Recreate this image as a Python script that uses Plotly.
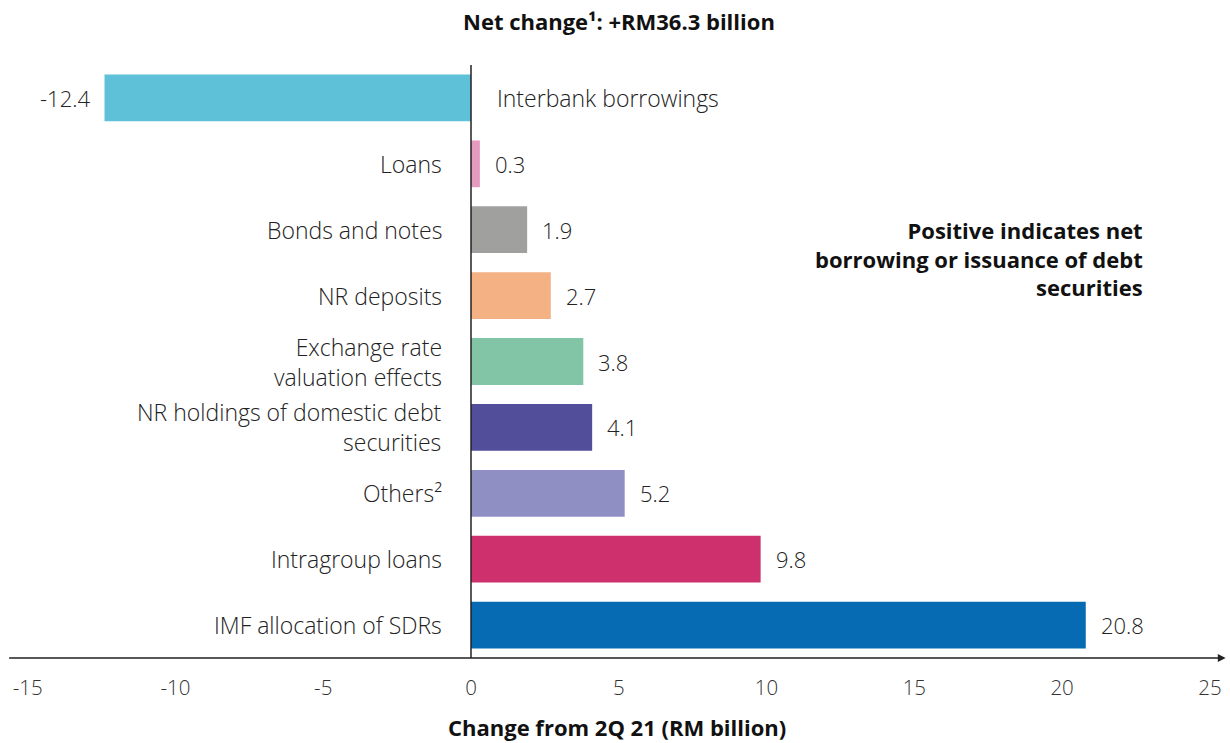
import plotly.graph_objects as go

# Categories listed bottom-to-top, with their changes (RM billion)
categories = [
    "IMF allocation of SDRs",
    "Intragroup loans",
    "Others²",
    "NR holdings of domestic debt<br>securities",
    "Exchange rate<br>valuation effects",
    "NR deposits",
    "Bonds and notes",
    "Loans",
    "Interbank borrowings",
]
values = [20.8, 9.8, 5.2, 4.1, 3.8, 2.7, 1.9, 0.3, -12.4]
colors = [
    "#066BB2", "#CE306E", "#8F8FC4", "#524E9A", "#82C5A6",
    "#F4B183", "#A0A09F", "#E59BC0", "#5FC1D7",
]
x_ticks = [-15, -10, -5, 0, 5, 10, 15, 20, 25]

FONT = "Open Sans"
TEXT = "#222222"
LABEL = dict(family=FONT, size=23, color=TEXT, weight=300)
BOLD = dict(family=FONT, size=22, color="#111111", weight=600)

idx = list(range(len(categories)))

fig = go.Figure(
    go.Bar(
        x=values,
        y=idx,
        orientation="h",
        marker=dict(color=colors, line=dict(width=0)),
        width=0.71,
        hoverinfo="skip",
    )
)

annotations = []
for i, (cat, v) in enumerate(zip(categories, values)):
    # value labels just beyond the bar end
    annotations.append(dict(
        x=v, y=i, xref="x", yref="y", text=f"{v:.1f}", showarrow=False,
        xanchor="left" if v >= 0 else "right",
        xshift=13 if v >= 0 else -13,
        font=dict(family=FONT, size=22, color=TEXT, weight=300),
    ))
    # category names beside the zero line
    if v >= 0:
        annotations.append(dict(
            x=0, y=i, xref="x", yref="y", text=cat, showarrow=False,
            xanchor="right", align="right", xshift=-27, font=LABEL,
        ))
    else:
        annotations.append(dict(
            x=0, y=i, xref="x", yref="y", text=cat, showarrow=False,
            xanchor="left", align="left", xshift=24, font=LABEL,
        ))

# chart title
annotations.append(dict(
    x=0.502, y=1, xref="paper", yref="paper", yanchor="bottom", yshift=27,
    text="<b>Net change¹: +RM36.3 billion</b>", showarrow=False, font=BOLD,
))
# axis title
annotations.append(dict(
    x=0.5, y=0, xref="paper", yref="paper", yanchor="top", yshift=-52,
    text="<b>Change from 2Q 21 (RM billion)</b>", showarrow=False, font=BOLD,
))
# side note
annotations.append(dict(
    x=0.936, y=0.6745, xref="paper", yref="paper", xanchor="right",
    yanchor="middle", align="right",
    text="<b>Positive indicates net<br>borrowing or issuance of debt<br>securities</b>",
    showarrow=False, font=BOLD,
))
# x axis line with arrow head
annotations.append(dict(
    x=1.003, y=0, xref="paper", yref="paper", ax=-1218, ay=0,
    axref="pixel", ayref="pixel", showarrow=True, text="",
    arrowhead=2, arrowsize=1.2, arrowwidth=1.3, arrowcolor="#222222",
))

fig.update_layout(
    width=1230, height=743,
    margin=dict(l=12, r=8, t=65, b=85),
    paper_bgcolor="white", plot_bgcolor="white",
    showlegend=False,
    annotations=annotations,
    shapes=[dict(
        type="line", xref="x", yref="y", x0=0, x1=0, y0=-0.5, y1=8.5,
        line=dict(color="#222222", width=1.5), layer="above",
    )],
    xaxis=dict(
        range=[-15.53, 25.41], tickvals=x_ticks,
        ticktext=[str(t) for t in x_ticks],
        showgrid=False, zeroline=False, showline=False, ticks="",
        tickfont=dict(family=FONT, size=20.5, color="#333333", weight=300),
        ticklabelstandoff=15, fixedrange=True,
    ),
    yaxis=dict(
        range=[-0.5, 8.5], showticklabels=False, showgrid=False,
        zeroline=False, showline=False, ticks="", fixedrange=True,
    ),
)

fig.write_html("out.html")
